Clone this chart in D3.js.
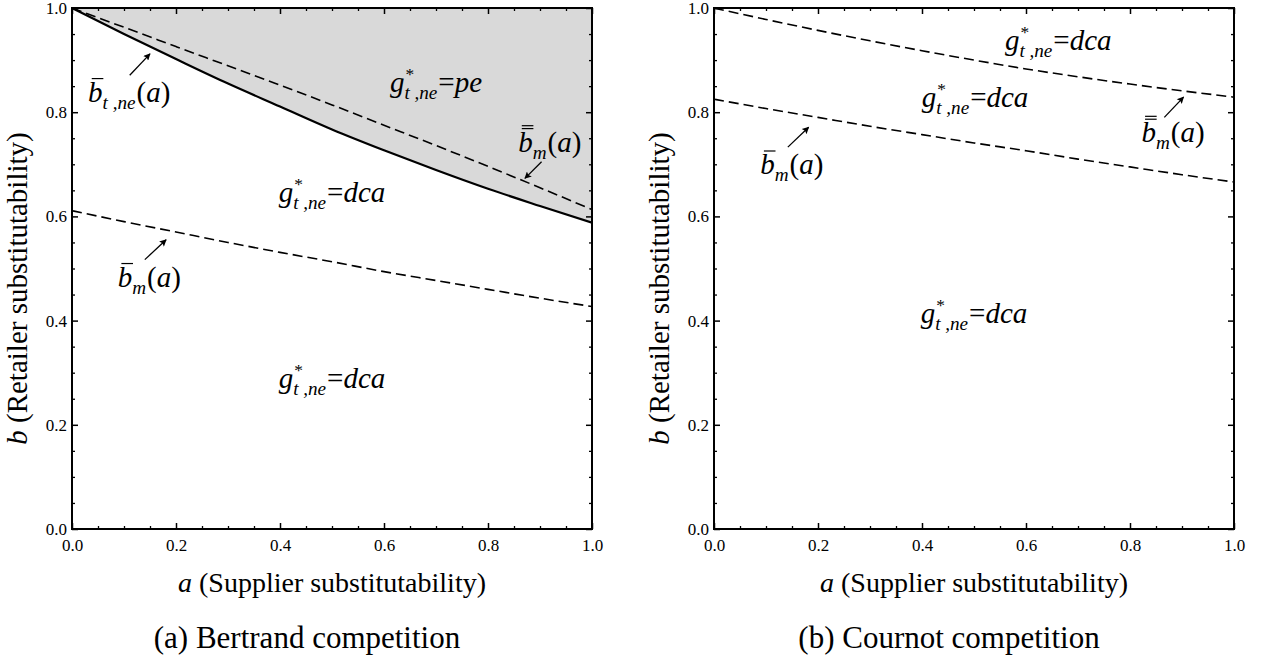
<!DOCTYPE html>
<html>
<head>
<meta charset="utf-8">
<script src="https://cdn.jsdelivr.net/npm/d3@7"></script>
<style>
  body { margin: 0; background: #fff; }
  svg text { font-family: "Liberation Serif", "Times New Roman", serif; fill: #000; }
</style>
</head>
<body>
<svg id="chart" width="1261" height="662"></svg>
<script>
const aGrid = [0, 0.1, 0.2, 0.3, 0.4, 0.5, 0.6, 0.7, 0.8, 0.9, 1.0];
// (a) Bertrand
const bertrandBt = [1.000, 0.950, 0.902, 0.855, 0.811, 0.767, 0.727, 0.689, 0.653, 0.620, 0.588];
const bertrandBmDbl = [1.000, 0.963, 0.926, 0.889, 0.852, 0.814, 0.775, 0.736, 0.696, 0.655, 0.613];
const bertrandBmBar = [0.611, 0.590, 0.570, 0.550, 0.531, 0.513, 0.494, 0.477, 0.460, 0.443, 0.427];
// (b) Cournot
const cournotBmDbl = [1.000, 0.978, 0.957, 0.937, 0.918, 0.900, 0.883, 0.868, 0.854, 0.841, 0.829];
const cournotBmBar = [0.825, 0.807, 0.790, 0.773, 0.757, 0.741, 0.726, 0.710, 0.695, 0.680, 0.666];

const majorTicks = [0, 0.2, 0.4, 0.6, 0.8, 1.0];
const minorTicks = [0.05, 0.1, 0.15, 0.25, 0.3, 0.35, 0.45, 0.5, 0.55, 0.65, 0.7, 0.75, 0.85, 0.9, 0.95];
const tickLabels = ['0.0', '0.2', '0.4', '0.6', '0.8', '1.0'];
const xTitle = ['a', ' (Supplier substitutability)'];
const yTitle = ['b', ' (Retailer substitutability)'];
const captions = ['(a) Bertrand competition', '(b) Cournot competition'];

const size = { w: 520, h: 521, top: 8 };
const panelLeft = [72, 714];
const serif = '"Liberation Serif", "Times New Roman", serif';

const svg = d3.select('#chart');
svg.append('rect').attr('width', 1261).attr('height', 662).attr('fill', '#fff');

const defs = svg.append('defs');
defs.append('marker')
    .attr('id', 'arrow')
    .attr('viewBox', '0 0 10 10')
    .attr('refX', 9).attr('refY', 5)
    .attr('markerWidth', 10).attr('markerHeight', 7)
    .attr('markerUnits', 'userSpaceOnUse')
    .attr('orient', 'auto')
    .append('path').attr('d', 'M0,0 L10,5 L0,10 L2,5 z').attr('fill', '#000');

const x = d3.scaleLinear().domain([0, 1]).range([0, size.w]);
const y = d3.scaleLinear().domain([0, 1]).range([size.h, 0]);

const line = d3.line().x((d) => x(d[0])).y((d) => y(d[1])).curve(d3.curveMonotoneX);
const pairs = (vals) => aGrid.map((a, i) => [a, vals[i]]);

// label built from pieces: plain text, italic text with bars, stacked sup/sub
function mathText(g, parts, px, py, anchor, fs) {
    const grp = g.append('g');
    let cx = 0;
    parts.forEach((p) => {
        if (p.sub !== undefined || p.sup !== undefined) {
            let w = 0;
            if (p.sup) {
                const t = grp.append('text').attr('x', cx + 1).attr('y', -fs * 0.42)
                    .style('font-family', serif)
                    .style('font-size', `${fs * 0.6}px`).text(p.sup);
                w = Math.max(w, t.node().getComputedTextLength() + 1);
            }
            if (p.sub) {
                const t = grp.append('text').attr('x', cx).attr('y', fs * 0.24)
                    .style('font-family', serif)
                    .style('font-size', `${fs * 0.66}px`).style('font-style', 'italic').text(p.sub);
                w = Math.max(w, t.node().getComputedTextLength());
            }
            cx += w + 1;
        } else {
            const t = grp.append('text').attr('x', cx).attr('y', 0)
                .style('font-family', serif)
                .style('font-size', `${fs}px`)
                .style('font-style', p.it ? 'italic' : 'normal')
                .text(p.t);
            const w = t.node().getComputedTextLength();
            for (let k = 0; k < (p.bar || 0); k++) {
                const by = -fs * (0.8 + 0.1 * k);
                grp.append('line')
                    .attr('x1', cx + w * 0.25).attr('x2', cx + w * 1.05)
                    .attr('y1', by).attr('y2', by)
                    .attr('stroke', '#000').attr('stroke-width', 1.2);
            }
            cx += w;
        }
    });
    const dx = anchor === 'middle' ? -cx / 2 : 0;
    grp.attr('transform', `translate(${px + dx},${py})`);
}

function arrow(g, from, to) {
    g.append('line')
        .attr('x1', x(from[0])).attr('y1', y(from[1]))
        .attr('x2', x(to[0])).attr('y2', y(to[1]))
        .attr('stroke', '#000').attr('stroke-width', 1.3)
        .attr('marker-end', 'url(#arrow)');
}

const gLabel = (rhs) => [{ t: 'g', it: true }, { sup: '*', sub: 't ,ne' }, { t: '=', it: false }, ...rhs];
const bBar = (sub, bars) => [{ t: 'b', it: true, bar: bars }, { sub: sub }, { t: '(', it: false }, { t: 'a', it: true }, { t: ')', it: false }];

function panel(idx, curves, fill, notes) {
    const g = svg.append('g').attr('transform', `translate(${panelLeft[idx]},${size.top})`);
    const clipId = `clip${idx}`;
    defs.append('clipPath').attr('id', clipId)
        .append('rect').attr('width', size.w).attr('height', size.h);
    const plot = g.append('g').attr('clip-path', `url(#${clipId})`);

    if (fill) {
        plot.append('path')
            .datum(pairs(fill))
            .attr('fill', '#d9d9d9')
            .attr('d', d3.area().x((d) => x(d[0])).y0(y(1)).y1((d) => y(d[1])).curve(d3.curveMonotoneX));
    }
    curves.forEach((c) => {
        plot.append('path')
            .datum(pairs(c.vals))
            .attr('fill', 'none')
            .attr('stroke', '#000')
            .attr('stroke-width', c.dash ? 1.6 : 2.2)
            .attr('stroke-dasharray', c.dash ? '10,5' : null)
            .attr('d', line);
    });

    // inward ticks on all four sides
    const axes = [
        { ax: d3.axisBottom(x), tr: `translate(0,${size.h})`, lab: true },
        { ax: d3.axisLeft(y), tr: null, lab: true },
        { ax: d3.axisTop(x), tr: null, lab: false },
        { ax: d3.axisRight(y), tr: `translate(${size.w},0)`, lab: false },
    ];
    axes.forEach((a) => {
        const minor = g.append('g').attr('transform', a.tr)
            .call(a.ax.tickValues(minorTicks).tickSize(-3).tickFormat(''));
        minor.select('.domain').remove();
        minor.selectAll('line').attr('stroke-width', 1.3);
        const major = g.append('g').attr('transform', a.tr)
            .call(a.ax.tickValues(majorTicks).tickSize(-6).tickSizeOuter(0)
                .tickPadding(a.lab ? (a.tr ? 10 : 5) : 0)
                .tickFormat((d, i) => (a.lab ? tickLabels[i] : '')));
        major.select('.domain').remove();
        major.selectAll('line').attr('stroke-width', 1.5);
        major.selectAll('text')
            .style('font-family', serif)
            .style('font-size', '17px');
    });

    g.append('rect')
        .attr('width', size.w).attr('height', size.h)
        .attr('fill', 'none').attr('stroke', '#000').attr('stroke-width', 2);

    notes.forEach((n) => {
        if (n.arrow) arrow(g, n.arrow[0], n.arrow[1]);
        if (n.parts) mathText(g, n.parts, x(n.at[0]), y(n.at[1]), n.anchor, 29);
    });

    // axis titles and caption
    const xt = g.append('text').attr('x', size.w / 2).attr('y', 584)
        .attr('text-anchor', 'middle')
        .style('font-family', serif).style('font-size', '28px');
    xt.append('tspan').style('font-style', 'italic').text(xTitle[0]);
    xt.append('tspan').text(xTitle[1]);

    const yt = g.append('text')
        .attr('transform', `translate(-45,${size.h / 2 + 20}) rotate(-90)`)
        .attr('text-anchor', 'middle')
        .style('font-family', serif).style('font-size', '29px');
    yt.append('tspan').style('font-style', 'italic').text(yTitle[0]);
    yt.append('tspan').text(yTitle[1]);

    g.append('text').attr('x', size.w / 2 - 25).attr('y', 640)
        .attr('text-anchor', 'middle')
        .style('font-family', serif).style('font-size', '31px')
        .text(captions[idx]);
}

panel(0, [
    { vals: bertrandBt, dash: false },
    { vals: bertrandBmDbl, dash: true },
    { vals: bertrandBmBar, dash: true },
], bertrandBt, [
    { parts: bBar('t ,ne', 1), at: [0.031, 0.820], anchor: 'start', arrow: [[0.111, 0.871], [0.150, 0.912]] },
    { parts: gLabel([{ t: ' pe', it: true }]), at: [0.70, 0.839], anchor: 'middle' },
    { parts: bBar('m', 2), at: [0.858, 0.724], anchor: 'start', arrow: [[0.903, 0.705], [0.871, 0.673]] },
    { parts: gLabel([{ t: 'dca', it: true }]), at: [0.50, 0.628], anchor: 'middle' },
    { parts: bBar('m', 1), at: [0.088, 0.465], anchor: 'start', arrow: [[0.140, 0.517], [0.181, 0.555]] },
    { parts: gLabel([{ t: 'dca', it: true }]), at: [0.50, 0.271], anchor: 'middle' },
]);

panel(1, [
    { vals: cournotBmDbl, dash: true },
    { vals: cournotBmBar, dash: true },
], null, [
    { parts: gLabel([{ t: 'dca', it: true }]), at: [0.662, 0.919], anchor: 'middle' },
    { parts: gLabel([{ t: 'dca', it: true }]), at: [0.502, 0.810], anchor: 'middle' },
    { parts: bBar('m', 2), at: [0.822, 0.742], anchor: 'start', arrow: [[0.866, 0.790], [0.903, 0.829]] },
    { parts: bBar('m', 1), at: [0.089, 0.681], anchor: 'start', arrow: [[0.142, 0.733], [0.182, 0.771]] },
    { parts: gLabel([{ t: 'dca', it: true }]), at: [0.50, 0.3955], anchor: 'middle' },
]);
</script>
</body>
</html>
